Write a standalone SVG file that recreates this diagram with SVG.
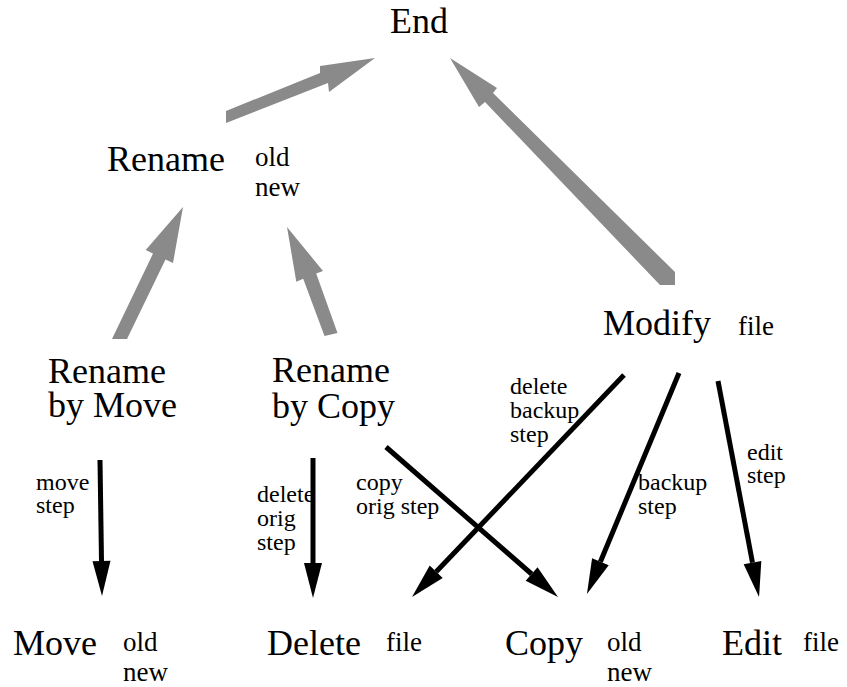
<svg xmlns="http://www.w3.org/2000/svg" width="847" height="687" viewBox="0 0 847 687">
<style>
.n{font-family:"Liberation Serif","Times New Roman",serif;font-size:36px;fill:#000}
.a{font-family:"Liberation Serif","Times New Roman",serif;font-size:27px;fill:#000}
.s{font-family:"Liberation Serif","Times New Roman",serif;font-size:24px;fill:#000}
.g{fill:#8a8a8a;stroke:none}
.k{stroke:#000;stroke-width:5;fill:none;marker-end:url(#ah)}
</style>
<defs>
<marker id="ah" markerUnits="userSpaceOnUse" markerWidth="40" markerHeight="24" refX="0" refY="0" viewBox="0 -12 40 24" orient="auto" overflow="visible">
<path d="M0,-9 L35,0 L0,9 Z" fill="#000"/>
</marker>
</defs>
<rect width="847" height="687" fill="#fff"/>
<g id="connectors">
<polygon class="g" points="226,111 320,73 320,66 375,58 329,92 328,83 226,123"/>
<polygon class="g" points="450,58 497,88 493,93 675,272 675,285 660,285 485,102 479,107"/>
<polygon class="g" points="183,207 173,263 165.5,259.6 127,339 112,339 153,253.6 145.7,250"/>
<polygon class="g" points="287,227 323,271 316.2,273.6 337.5,333 324.5,336 303.2,278.8 296.3,281.7"/>
<line class="k" x1="100" y1="460" x2="101.5" y2="561"/>
<line class="k" x1="313" y1="458" x2="313" y2="563"/>
<line class="k" x1="624" y1="375" x2="436.2" y2="571.7"/>
<line class="k" x1="386" y1="447" x2="531.6" y2="574"/>
<line class="k" x1="679" y1="373" x2="600.4" y2="561.7"/>
<line class="k" x1="718" y1="381" x2="752.5" y2="562.6"/>
<text class="s" x="36" y="490">move</text>
<text class="s" x="36" y="513">step</text>
<text class="s" x="257" y="502">delete</text>
<text class="s" x="257" y="526">orig</text>
<text class="s" x="257" y="550">step</text>
<text class="s" x="356" y="490">copy</text>
<text class="s" x="356" y="514">orig step</text>
<text class="s" x="510" y="394">delete</text>
<text class="s" x="510" y="418">backup</text>
<text class="s" x="510" y="442">step</text>
<text class="s" x="638" y="490">backup</text>
<text class="s" x="638" y="514">step</text>
<text class="s" x="747" y="460">edit</text>
<text class="s" x="747" y="483">step</text>
</g>
<g id="end"><text class="n" x="390" y="33">End</text></g>
<g id="rename"><text class="n" x="107" y="171">Rename</text><text class="a" x="255" y="166">old</text><text class="a" x="255" y="196">new</text></g>
<g id="rename-by-move"><text class="n" x="48" y="383">Rename</text><text class="n" x="48" y="417">by Move</text></g>
<g id="rename-by-copy"><text class="n" x="272" y="382">Rename</text><text class="n" x="272" y="418">by Copy</text></g>
<g id="modify"><text class="n" x="603" y="335">Modify</text><text class="a" x="738" y="335">file</text></g>
<g id="move"><text class="n" x="13" y="655">Move</text><text class="a" x="123" y="651">old</text><text class="a" x="123" y="681">new</text></g>
<g id="delete"><text class="n" x="267" y="655">Delete</text><text class="a" x="386" y="651">file</text></g>
<g id="copy"><text class="n" x="505" y="655">Copy</text><text class="a" x="607" y="651">old</text><text class="a" x="607" y="681">new</text></g>
<g id="edit"><text class="n" x="722" y="655">Edit</text><text class="a" x="803" y="651">file</text></g>
</svg>
